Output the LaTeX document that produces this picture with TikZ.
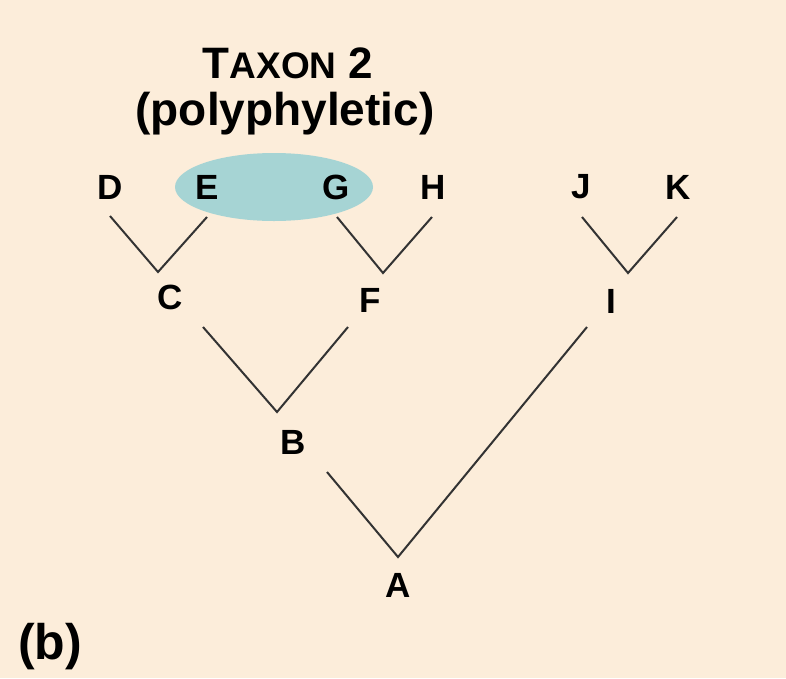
\documentclass[tikz,border=0pt]{standalone}
\usepackage{fontspec}
\setmainfont{Liberation Sans}
\usetikzlibrary{calc}
\definecolor{bgpeach}{RGB}{252,237,218}
\definecolor{taxonfill}{RGB}{166,212,212}
\begin{document}
\begin{tikzpicture}[x=1pt,y=-1pt,
    taxon/.style={inner sep=0pt,font=\fontsize{35}{40}\selectfont\bfseries},
    branch/.style={line width=2pt,color=black!80,line join=miter}]
      \useasboundingbox[fill=bgpeach] (0,0) rectangle (786,678);
      \fill[taxonfill] (274,187) ellipse [x radius=99, y radius=34];
      \node[inner sep=0pt,font=\bfseries] (title) at (288,63) {{\fontsize{44}{48}\selectfont T}{\fontsize{37}{40}\selectfont AXON}{\fontsize{44}{48}\selectfont\ 2}};
      \node[inner sep=0pt,font=\fontsize{46}{50}\selectfont\bfseries] (poly) at (285,114) {(polyphyletic)};
      % leaves
      \node[taxon] (D) at (110,187) {D};
      \node[taxon] (E) at (207,187) {E};
      \node[taxon] (G) at (336,187) {G};
      \node[taxon] (H) at (433,187) {H};
      \node[taxon] (J) at (581,187) {J};
      \node[taxon] (K) at (678,187) {K};
      % ancestors
      \node[taxon] (C) at (170,297) {C};
      \node[taxon] (F) at (370,300) {F};
      \node[taxon] (I) at (611,301) {I};
      \node[taxon] (B) at (293,442) {B};
      \node[taxon] (A) at (398,585) {A};
      \coordinate (vC) at (158,272);
      \coordinate (vF) at (383,273);
      \coordinate (vI) at (628,273);
      \coordinate (vB) at (277,412);
      \coordinate (vA) at (398,557);
      \draw[branch] ($(D)+(0,29)$) -- (vC) -- ($(E)+(0,30)$);
      \draw[branch] ($(G)+(1,30)$) -- (vF) -- ($(H)+(-1,30)$);
      \draw[branch] ($(J)+(1,30)$) -- (vI) -- ($(K)+(-1,30)$);
      \draw[branch] ($(C)+(33,30)$) -- (vB) -- ($(F)+(-22,27)$);
      \draw[branch] ($(B)+(34,30)$) -- (vA) -- ($(I)+(-24,26)$);
      \node[inner sep=0pt,font=\fontsize{50}{54}\selectfont\bfseries] (part) at (50,647) {(b)};
\end{tikzpicture}
\end{document}
